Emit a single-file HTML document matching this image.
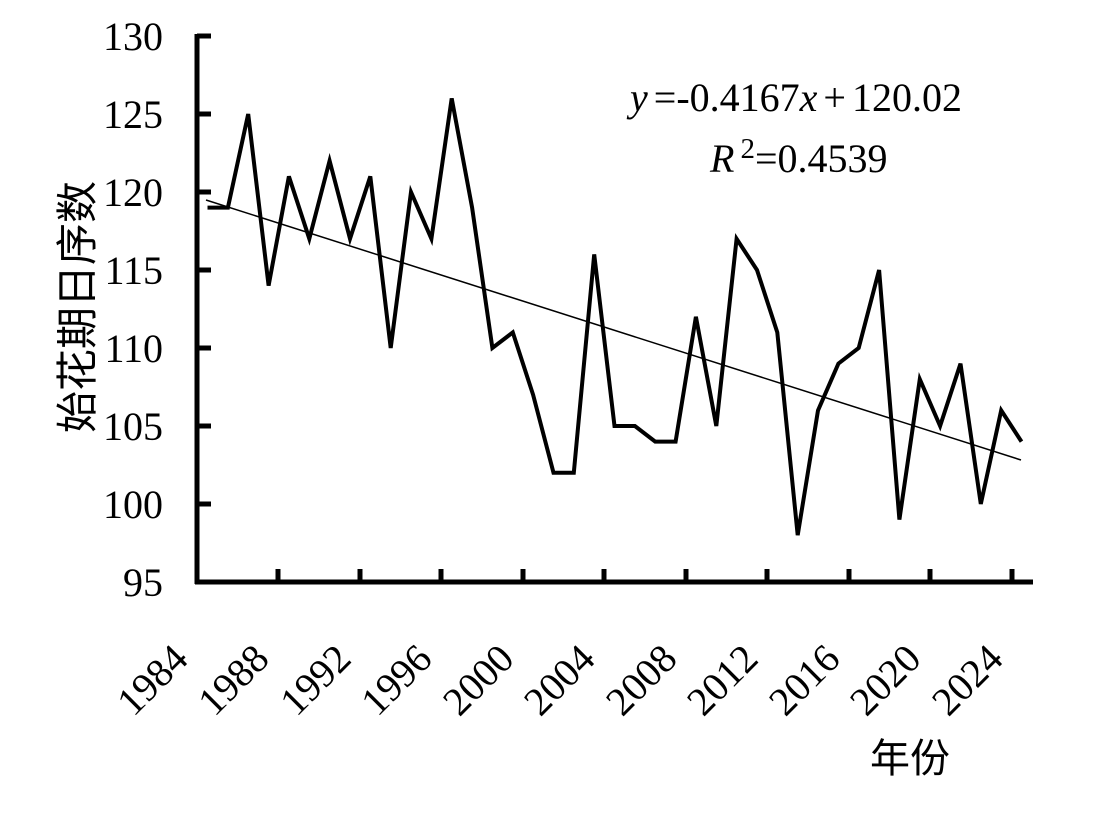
<!DOCTYPE html>
<html><head><meta charset="utf-8"><style>body{margin:0;background:#fff}</style></head><body>
<svg width="1100" height="814" xmlns="http://www.w3.org/2000/svg" font-family="Liberation Serif, Noto Serif CJK SC, serif">
<rect width="1100" height="814" fill="#fff"/>
<g stroke="#000" stroke-width="5" fill="none">
<line x1="197" y1="34" x2="197" y2="584"/>
<line x1="195" y1="582" x2="1033" y2="582"/>
<path d="M197 36h14M197 114h14M197 192h14M197 270h14M197 348h14M197 426h14M197 504h14"/>
<path d="M278 582v-13M360 582v-13M441 582v-13M523 582v-13M604 582v-13M686 582v-13M767 582v-13M849 582v-13M930 582v-13M1012 582v-13"/>
</g>
<polyline fill="none" stroke="#000" stroke-width="4" points="207.5,207.6 227.9,207.6 248.2,114 268.6,285.6 288.9,176.4 309.3,238.8 329.6,160.8 350.0,238.8 370.3,176.4 390.7,348 411.0,192 431.4,238.8 451.7,98.4 472.1,207.6 492.4,348 512.8,332.4 533.1,394.8 553.5,472.8 573.8,472.8 594.2,254.4 614.5,426 634.9,426 655.2,441.6 675.6,441.6 695.9,316.8 716.3,426 736.6,238.8 757.0,270 777.3,332.4 797.7,535.2 818.0,410.4 838.4,363.6 858.7,348 879.1,270 899.4,519.6 919.8,379.2 940.1,426 960.5,363.6 980.8,504 1001.2,410.4 1021.5,441.6"/>
<line x1="206" y1="200" x2="1021" y2="460" stroke="#000" stroke-width="1.5"/>
<g font-size="40" text-anchor="end">
<text x="163" y="50">130</text><text x="163" y="128">125</text><text x="163" y="206">120</text><text x="163" y="284">115</text><text x="163" y="362">110</text><text x="163" y="440">105</text><text x="163" y="518">100</text><text x="163" y="596">95</text>
</g>
<g font-size="40" text-anchor="end">
<text transform="translate(190,661) rotate(-45)">1984</text>
<text transform="translate(271,661) rotate(-45)">1988</text>
<text transform="translate(353,661) rotate(-45)">1992</text>
<text transform="translate(434,661) rotate(-45)">1996</text>
<text transform="translate(516,661) rotate(-45)">2000</text>
<text transform="translate(597,661) rotate(-45)">2004</text>
<text transform="translate(679,661) rotate(-45)">2008</text>
<text transform="translate(760,661) rotate(-45)">2012</text>
<text transform="translate(842,661) rotate(-45)">2016</text>
<text transform="translate(923,661) rotate(-45)">2020</text>
<text transform="translate(1005,661) rotate(-45)">2024</text>
</g>
<text x="630" y="111" font-size="40"><tspan font-style="italic">y</tspan><tspan dx="6">=-0.4167</tspan><tspan font-style="italic">x</tspan><tspan dx="6">+</tspan><tspan dx="6">120.02</tspan></text>
<text x="710" y="172" font-size="40"><tspan font-style="italic">R</tspan><tspan dy="-14" font-size="29" dx="6">2</tspan><tspan dy="14">=0.4539</tspan></text>
<text transform="translate(92,307) rotate(-90)" font-size="42" text-anchor="middle" font-family="Noto Sans CJK SC, sans-serif">始花期日序数</text>
<text x="910" y="772" font-size="40" text-anchor="middle" font-family="Noto Sans CJK SC, sans-serif">年份</text>
</svg>
</body></html>
